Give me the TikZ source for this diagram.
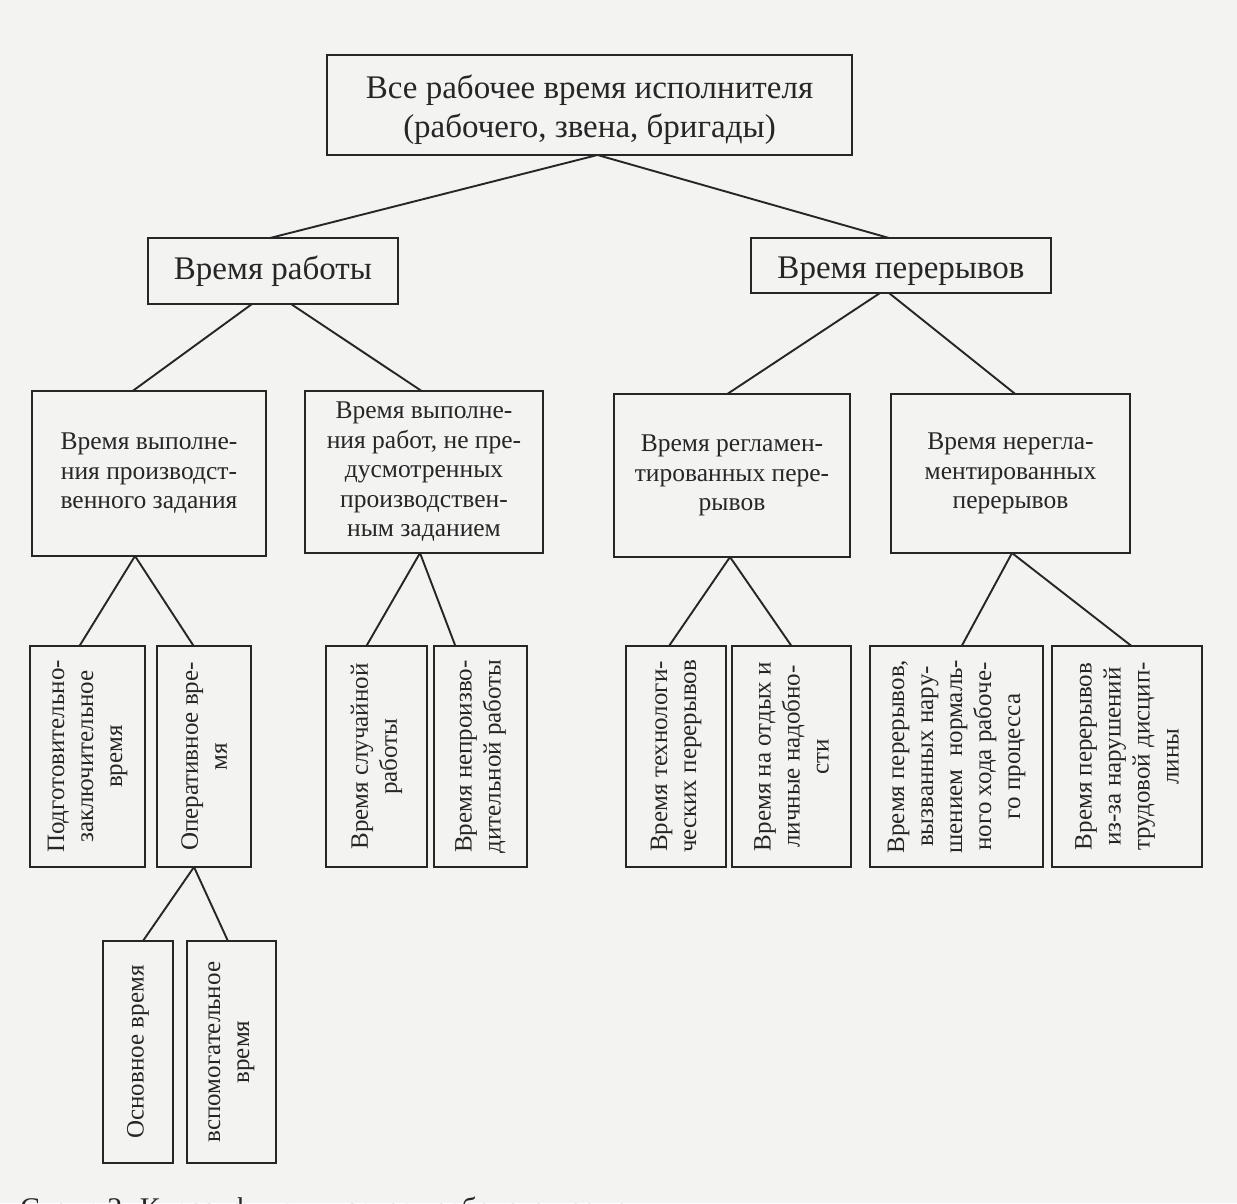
\documentclass[tikz,border=0pt]{standalone}
\usepackage{fontspec}
\setmainfont{Liberation Serif}
\usetikzlibrary{calc}
\definecolor{ink}{HTML}{262626}
\definecolor{paper}{HTML}{F3F3F2}
\begin{document}
\begin{tikzpicture}[x=1pt,y=-1pt,
  box/.style={draw=ink, line width=2pt, inner sep=0pt, outer sep=0pt, text=ink, align=center},
  lbl/.style={inner sep=0pt, text=ink, align=center},
  big/.style={font=\fontsize{33}{39}\selectfont},
  small/.style={font=\fontsize{25.5}{29.5}\selectfont},
  vtext/.style={rotate=90, text=ink, align=center, inner sep=0pt, font=\fontsize{25}{29}\selectfont},
  link/.style={draw=ink, line width=1.9pt}]
\fill[paper] (0,0) rectangle (1237,1203);
\useasboundingbox (0,0) rectangle (1237,1203);

% level 0
\node[box,minimum width=525pt,minimum height=100pt] (top) at (589.5,105) {};
\node[lbl,big] (ttop) at ([yshift=-5pt]top.center) {Все рабочее время исполнителя\\(рабочего, звена, бригады)};
% level 1
\node[box,big,minimum width=250pt,minimum height=66pt] (rab) at (273,271) {Время работы};
\node[box,minimum width=300pt,minimum height=55pt] (per) at (901,265.5) {};
\node[lbl,big] (tper) at ([yshift=-6pt]per.center) {Время перерывов};
% level 2
\node[box,small,minimum width=234pt,minimum height=165pt] (vyp) at (149,473.5) {Время выполне-\\ния производст-\\венного задания};
\node[box,small,minimum width=238pt,minimum height=162pt] (nepr) at (424,472) {Время выполне-\\ния работ, не пре-\\дусмотренных\\производствен-\\ным заданием};
\node[box,small,minimum width=236pt,minimum height=163pt] (reg) at (732,475.5) {Время регламен-\\тированных пере-\\рывов};
\node[box,small,minimum width=239pt,minimum height=159pt] (nereg) at (1010.5,473.5) {Время нерегла-\\ментированных\\перерывов};
% level 3 boxes
\node[box,minimum width=115pt,minimum height=221pt] (podg) at (87.5,756.5) {};
\node[box,minimum width=94pt,minimum height=221pt] (oper) at (204,756.5) {};
\node[box,minimum width=101pt,minimum height=221pt] (sluch) at (376.5,756.5) {};
\node[box,minimum width=93pt,minimum height=221pt] (neproiz) at (480.5,756.5) {};
\node[box,minimum width=100pt,minimum height=221pt] (tech) at (676,756.5) {};
\node[box,minimum width=119pt,minimum height=221pt] (otd) at (791.5,756.5) {};
\node[box,minimum width=173pt,minimum height=221pt] (vyzv) at (956.5,756.5) {};
\node[box,minimum width=150pt,minimum height=221pt] (izza) at (1127,756.5) {};
% level 4 boxes
\node[box,minimum width=70pt,minimum height=222pt] (osn) at (138,1052) {};
\node[box,minimum width=89pt,minimum height=222pt] (vsp) at (231.5,1052) {};

% vertical texts
\node[vtext] (tpodg) at (podg) {Подготовительно-\\заключительное\\время};
\node[vtext] (toper) at (oper) {Оперативное вре-\\мя};
\node[vtext] (tsluch) at (sluch) {Время случайной\\работы};
\node[vtext] (tneproiz) at (neproiz) {Время непроизво-\\дительной работы};
\node[vtext] (ttech) at (tech) {Время технологи-\\ческих перерывов};
\node[vtext] (totd) at (otd) {Время на отдых и\\личные надобно-\\сти};
\node[vtext] (tvyzv) at (vyzv) {Время перерывов,\\вызванных нару-\\шением\ \ нормаль-\\ного хода рабоче-\\го процесса};
\node[vtext] (tizza) at (izza) {Время перерывов\\из-за нарушений\\трудовой дисцип-\\лины};
\node[vtext] (tosn) at (osn) {Основное время};
\node[vtext] (tvsp) at (vsp) {вспомогательное\\время};

% connectors
\draw[link] ([xshift=8pt]top.south) -- ([xshift=-3pt]rab.north);
\draw[link] ([xshift=8pt]top.south) -- ([xshift=-12pt]per.north);

\draw[link] ([xshift=-21pt]rab.south) -- ($(vyp.north west)!0.43!(vyp.north east)$);
\draw[link] ([xshift=18pt]rab.south) -- ($(nepr.north west)!0.49!(nepr.north east)$);

\draw[link] ([xshift=-21pt]per.south) -- ($(reg.north west)!0.48!(reg.north east)$);
\draw[link] ([xshift=-12pt]per.south) -- ($(nereg.north west)!0.52!(nereg.north east)$);

\draw[link] ([xshift=-14pt]vyp.south) -- ($(podg.north west)!0.43!(podg.north east)$);
\draw[link] ([xshift=-14pt]vyp.south) -- ($(oper.north west)!0.39!(oper.north east)$);

\draw[link] ([xshift=-4pt]nepr.south) -- ($(sluch.north west)!0.40!(sluch.north east)$);
\draw[link] ([xshift=-4pt]nepr.south) -- ($(neproiz.north west)!0.23!(neproiz.north east)$);

\draw[link] ([xshift=-2pt]reg.south) -- ($(tech.north west)!0.43!(tech.north east)$);
\draw[link] ([xshift=-2pt]reg.south) -- ($(otd.north west)!0.50!(otd.north east)$);

\draw[link] ([xshift=1.5pt]nereg.south) -- ($(vyzv.north west)!0.53!(vyzv.north east)$);
\draw[link] ([xshift=1.5pt]nereg.south) -- ($(izza.north west)!0.53!(izza.north east)$);

\draw[link] ([xshift=-10pt]oper.south) -- ($(osn.north west)!0.57!(osn.north east)$);
\draw[link] ([xshift=-10pt]oper.south) -- ($(vsp.north west)!0.46!(vsp.north east)$);

% caption, cut off by the page edge as in the scan
\begin{scope}
\clip (0,0) rectangle (1237,1203);
\node[anchor=base west, inner sep=0pt, text=ink, font=\fontsize{30}{36}\selectfont] (caption) at (20,1218) {Схема 2. Классификация затрат рабочего времени};
\end{scope}
\end{tikzpicture}
\end{document}
